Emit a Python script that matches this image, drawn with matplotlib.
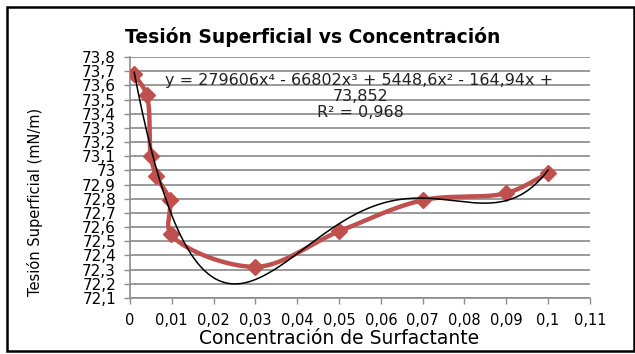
import matplotlib
matplotlib.use('Agg')
import numpy as np
import matplotlib.pyplot as plt
from matplotlib.patches import Rectangle

concentracion = [0.001, 0.004, 0.005, 0.0063, 0.0095, 0.0098, 0.03, 0.05, 0.07, 0.09, 0.1]
tension = [73.68, 73.53, 73.10, 72.96, 72.79, 72.55, 72.32, 72.57, 72.79, 72.84, 72.98]

# polynomial trend line coefficients (as given in the label)
coef = [279606, -66802, 5448.6, -164.94, 73.852]

y_ticks = [72.1, 72.2, 72.3, 72.4, 72.5, 72.6, 72.7, 72.8, 72.9, 73.0,
           73.1, 73.2, 73.3, 73.4, 73.5, 73.6, 73.7, 73.8]
x_ticks = [0, 0.01, 0.02, 0.03, 0.04, 0.05, 0.06, 0.07, 0.08, 0.09, 0.1, 0.11]

plt.rcParams['font.family'] = ['DejaVu Sans']

RED = '#C0504D'


def smooth_line(xs, ys, n=40):
    # centripetal Catmull-Rom in display-like proportions ("smoothed line")
    xs = np.asarray(xs, float)
    ys = np.asarray(ys, float)
    kx, ky = 460 / 0.11, 241 / 1.7
    P = np.column_stack([xs * kx, ys * ky])
    P = np.vstack([2 * P[0] - P[1], P, 2 * P[-1] - P[-2]])
    out = []
    for i in range(1, len(P) - 2):
        p0, p1, p2, p3 = P[i - 1], P[i], P[i + 1], P[i + 2]
        t0 = 0.0
        t1 = t0 + np.linalg.norm(p1 - p0) ** 0.5
        t2 = t1 + np.linalg.norm(p2 - p1) ** 0.5
        t3 = t2 + np.linalg.norm(p3 - p2) ** 0.5
        t = np.linspace(t1, t2, n)[:, None]
        a1 = (t1 - t) / (t1 - t0) * p0 + (t - t0) / (t1 - t0) * p1
        a2 = (t2 - t) / (t2 - t1) * p1 + (t - t1) / (t2 - t1) * p2
        a3 = (t3 - t) / (t3 - t2) * p2 + (t - t2) / (t3 - t2) * p3
        b1 = (t2 - t) / (t2 - t0) * a1 + (t - t0) / (t2 - t0) * a2
        b2 = (t3 - t) / (t3 - t1) * a2 + (t - t1) / (t3 - t1) * a3
        out.append((t2 - t) / (t2 - t1) * b1 + (t - t1) / (t2 - t1) * b2)
    out = np.vstack(out)
    return out[:, 0] / kx, out[:, 1] / ky


fig = plt.figure(figsize=(6.35, 3.54), dpi=100)
ax = fig.add_axes([0.2047, 0.1582, 0.7243, 0.6808])

sx, sy = smooth_line(concentracion, tension)
ax.plot(sx, sy, color=RED, lw=3.2, zorder=3, solid_capstyle='round')
ax.plot(concentracion, tension, linestyle='none', marker='D', ms=8,
        color=RED, zorder=4)

xf = np.linspace(min(concentracion), max(concentracion), 300)
ax.plot(xf, np.polyval(coef, xf), color='black', lw=1.1, zorder=5)

ax.set_xlim(0, 0.11)
ax.set_ylim(72.1, 73.8)
ax.set_yticks(y_ticks)
ax.set_yticklabels([('%g' % v).replace('.', ',') for v in y_ticks], fontsize=11)
ax.set_xticks(x_ticks)
ax.set_xticklabels([('%g' % v).replace('.', ',') for v in x_ticks], fontsize=10.5)
ax.tick_params(axis='y', length=4, width=1, color='#8c8c8c', pad=6)
ax.tick_params(axis='x', length=4, width=1, color='#8c8c8c', pad=6.5)

ax.grid(axis='y', color='#9a9a9a', lw=1.4)
ax.set_axisbelow(True)
for s in ['top', 'right']:
    ax.spines[s].set_visible(False)
ax.spines['left'].set_color('#8c8c8c')
ax.spines['bottom'].set_color('#8c8c8c')
ax.spines['left'].set_linewidth(1.2)
ax.spines['bottom'].set_linewidth(1.2)

fig.text(0.493, 0.895, 'Tesión Superficial vs Concentración', ha='center',
         va='center', fontsize=13.5, fontweight='bold')
fig.text(0.534, 0.045, 'Concentración de Surfactante', ha='center',
         va='center', fontsize=13.5)
fig.text(0.055, 0.43, 'Tesión Superficial (mN/m)', ha='center', va='center',
         rotation=90, fontsize=10.5)

fig.text(0.565, 0.774, 'y = 279606x⁴ - 66802x³ + 5448,6x² - 164,94x +',
         ha='center', va='center', fontsize=11.5, color='#222222')
fig.text(0.568, 0.726, '73,852', ha='center', va='center', fontsize=11.5,
         color='#222222')
fig.text(0.567, 0.681, 'R² = 0,968', ha='center', va='center', fontsize=11.5,
         color='#222222')

fig.add_artist(Rectangle((0.011, 0.008), 0.987, 0.972, transform=fig.transFigure,
                         fill=False, ec='black', lw=1.8))

fig.savefig('out.png', dpi=100)
plt.close()
